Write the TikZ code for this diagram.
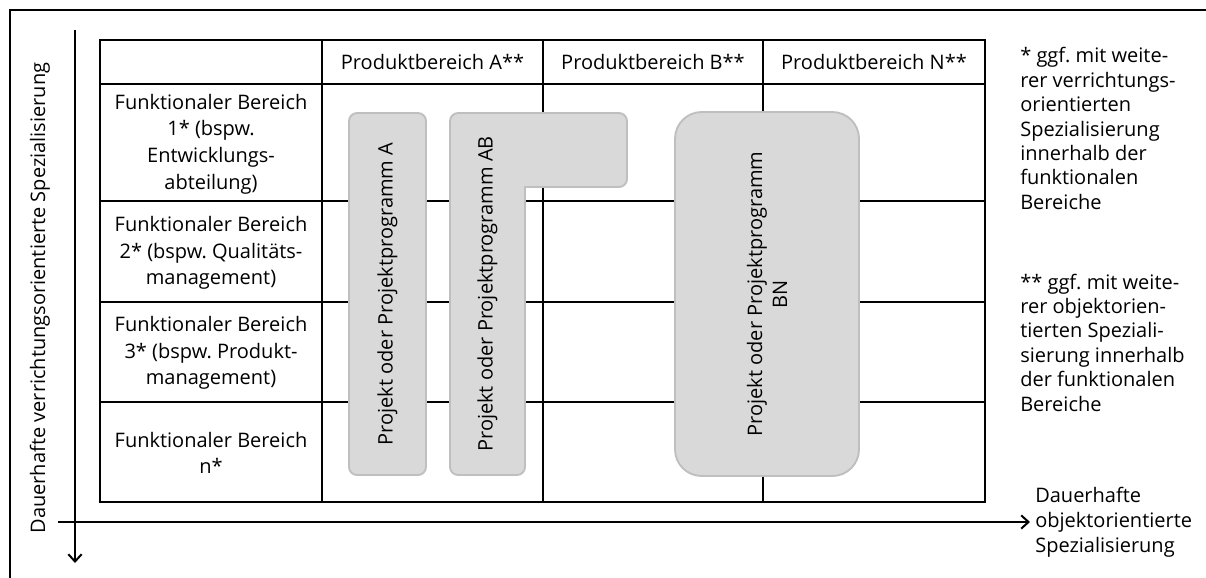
\documentclass[tikz,border=0pt]{standalone}
\usepackage{fontspec}
\setmainfont{Open Sans}
\usetikzlibrary{arrows.meta}
\frenchspacing
\newdimen\pxu \pxu=0.75pt
\definecolor{projfill}{HTML}{D9D9D9}
\definecolor{projline}{HTML}{BFBFBF}

\begin{document}
\begin{tikzpicture}[x=0.75pt,y=-0.75pt,
  rule/.style={line width=1.5pt},
  cell/.style={font=\fontsize{15}{20}\selectfont, align=center, inner sep=0pt},
  note/.style={font=\fontsize{15}{18.3}\selectfont, align=left, inner sep=0pt, anchor=west},
  proj/.style={draw=projline, fill=projfill, line width=1.4pt},
  projtext/.style={font=\fontsize{15}{18.75}\selectfont, align=center, rotate=90, inner sep=0pt},
  axis/.style={line width=1.5pt, -{Straight Barb[length=5.5pt,width=10pt]}}
]
\useasboundingbox (0,0) rectangle (1206,578);

% outer frame (top and left edges)
\coordinate (fTR) at (1206,10);
\coordinate (fTL) at (10,10);
\coordinate (fBL) at (10,578);
\draw[rule] (fTR) -- (fTL) -- (fBL);

% matrix grid
\draw[rule] (100,40) rectangle (985,502);
\foreach \y in {84,201,302,402} \draw[rule] (100,\y) -- (985,\y);
\foreach \x in {322,543,763} \draw[rule] (\x,40) -- (\x,502);

% column headers
\node[cell] (hA) at (432.5,62) {Produktbereich A**};
\node[cell] (hB) at (653,62) {Produktbereich B**};
\node[cell] (hN) at (874,62) {Produktbereich N**};

% row headers
\node[cell] (r1) at (211,144) {Funktionaler Bereich\\1* (bspw.\\Entwicklungs-\\abteilung)};
\node[cell] (r2) at (211,253) {Funktionaler Bereich\\2* (bspw. Qualitäts-\\management)};
\node[cell] (r3) at (211,353) {Funktionaler Bereich\\3* (bspw. Produkt-\\management)};
\node[cell] (r4) at (211,453) {Funktionaler Bereich\\n*};

% projects
\node[proj, projtext, rounded corners=6pt, minimum width=362\pxu, minimum height=77\pxu]
  (pA) at (387.5,294) {Projekt oder Projektprogramm A};
\draw[proj, rounded corners=6pt] (450,294) -- (450,113) -- (627,113) -- (627,187)
  [sharp corners] -- (525,187) [rounded corners=6pt] -- (525,475) -- (450,475) -- cycle;
\node[projtext] (pAB) at (487.5,294) {Projekt oder Projektprogramm AB};
\node[proj, projtext, rounded corners=20pt, minimum width=364\pxu, minimum height=184\pxu]
  (pBN) at (767,294) {Projekt oder Projektprogramm\\BN};

% footnotes
\node[note] (n1) at (1020,128.5) {* ggf. mit weite-\\rer verrichtungs-\\orientierten\\Spezialisierung\\innerhalb der\\funktionalen\\Bereiche};
\node[note] (n2) at (1020,342.5) {** ggf. mit weite-\\rer objektorien-\\tierten Speziali-\\sierung innerhalb\\der funktionalen\\Bereiche};

% axes
\coordinate (vT) at (75,30);
\coordinate (vB) at (75,563);
\draw[axis] (vT) -- (vB);
\coordinate (hL) at (58,522);
\coordinate (hR) at (1030,522);
\draw[axis] (hL) -- (hR);
\node[cell, rotate=90] (vlab) at (40,298) {Dauerhafte verrichtungsorientierte Spezialisierung};
\node[note, font=\fontsize{15}{18.75}\selectfont] (hlab) at (1035,522) {Dauerhafte\\objektorientierte\\Spezialisierung};
\end{tikzpicture}
\end{document}
